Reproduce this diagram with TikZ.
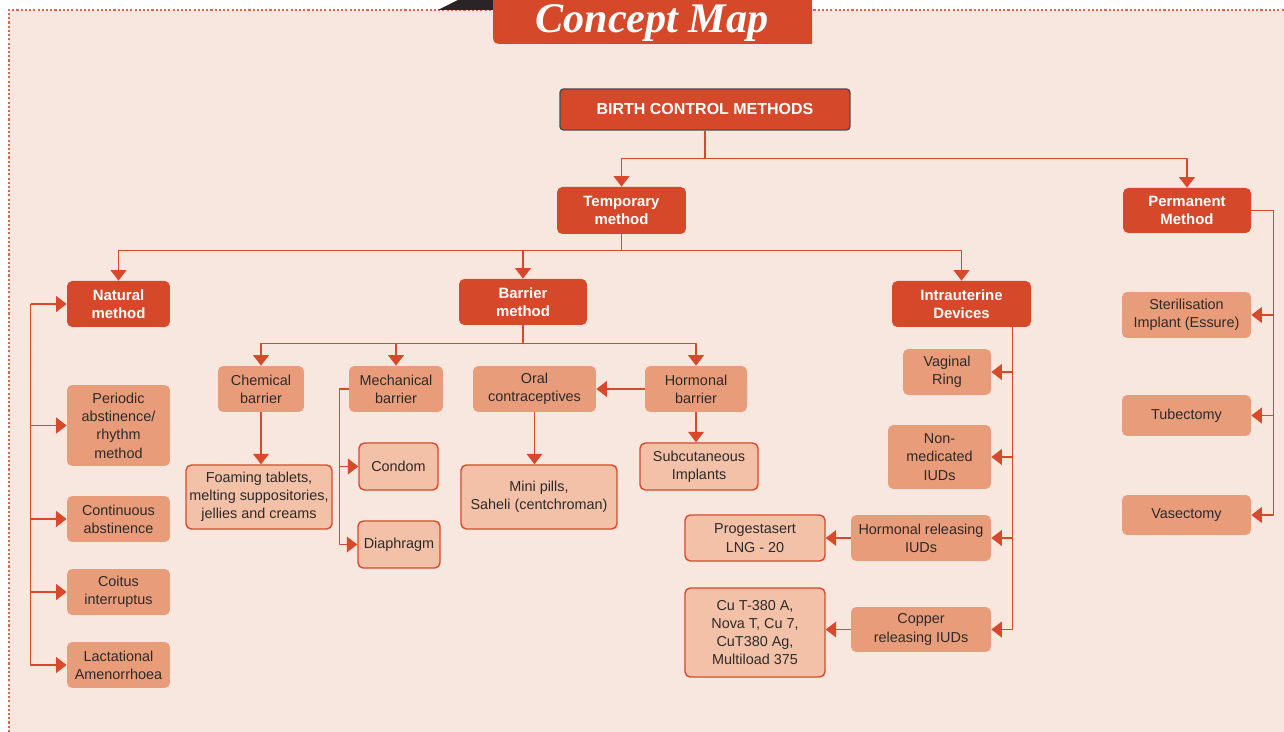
\documentclass[tikz,border=0pt]{standalone}
\usepackage{fontspec}
\setmainfont{Liberation Sans}
\newfontfamily\bannerfont{Liberation Serif}
\usetikzlibrary{arrows.meta}
\definecolor{cdark}{HTML}{D5482A}
\definecolor{cmid}{HTML}{E89C7A}
\definecolor{clight}{HTML}{F2C1A8}
\definecolor{cline}{HTML}{D9482A}
\definecolor{cpaper}{HTML}{F8E7DE}
\definecolor{ctext}{HTML}{2E2A2A}
\definecolor{cdot}{HTML}{E8604A}
\definecolor{cribbon}{HTML}{2B2426}
\begin{document}
\begin{tikzpicture}[x=0.02cm, y=-0.02cm, line join=round,
		>={Triangle[length=6pt,width=9pt]},
		rootbox/.style={fill=cdark, draw=black!70, line width=0.8pt, text=white, inner sep=0pt,
			rounded corners=2pt, font=\fontsize{9.1}{11}\selectfont\bfseries},
		headbox/.style={fill=cdark, text=white, align=center, inner sep=0pt, rounded corners=3pt,
			font=\fontsize{8.5}{10.2}\selectfont\bfseries},
		midbox/.style={fill=cmid, text=ctext, align=center, inner sep=0pt, rounded corners=3pt,
			font=\fontsize{8.2}{10.4}\selectfont},
		leafbox/.style={midbox, fill=clight, draw=cline, line width=0.8pt},
		link/.style={draw=cline, line width=0.85pt, ->}]
	\useasboundingbox (0,0) rectangle (1284,732);
	% paper and banner
	\fill[cpaper] (9,10) rectangle (1284,732);
	\draw[cdot, line width=0.7pt, dash pattern=on 1.2pt off 1.2pt] (9,732) -- (9,10) -- (1284,10);
	\fill[cribbon] (438,10) -- (458,0) -- (496,0) -- (496,10) -- cycle;
	\fill[cdark] (493,0) -- (812,0) -- (812,44) -- (506,44) .. controls (493,44) .. (493,31) -- cycle;
	\node[anchor=base, text=white, font=\bannerfont\bfseries\itshape\fontsize{24}{24}\selectfont] (title) at (652,33) {Concept Map};
	
	% top levels
	\node[rootbox, minimum width=5.8cm, minimum height=0.82cm] (bcm) at (705,109.5) {BIRTH CONTROL METHODS};
	\node[headbox, minimum width=2.58cm, minimum height=0.94cm] (tmp) at (621.5,210.5) {Temporary\\method};
	\node[headbox, minimum width=2.56cm, minimum height=0.9cm] (perm) at (1187,210.5) {Permanent\\Method};
	\node[headbox, minimum width=2.06cm, minimum height=0.92cm] (nat) at (118.5,304) {Natural\\method};
	\node[headbox, minimum width=2.56cm, minimum height=0.92cm] (bar) at (523,302) {Barrier\\method};
	\node[headbox, minimum width=2.78cm, minimum height=0.92cm] (iud) at (961.5,304) {Intrauterine\\Devices};
	
	% natural
	\node[midbox, minimum width=2.06cm, minimum height=1.62cm] (per) at (118.5,425.5) {Periodic\\abstinence/\\rhythm\\method};
	\node[midbox, minimum width=2.06cm, minimum height=0.92cm] (cont) at (118.5,519) {Continuous\\abstinence};
	\node[midbox, minimum width=2.06cm, minimum height=0.92cm] (coit) at (118.5,592) {Coitus\\interruptus};
	\node[midbox, minimum width=2.06cm, minimum height=0.92cm] (lact) at (118.5,665) {Lactational\\Amenorrhoea};
	
	% barrier
	\node[midbox, minimum width=1.72cm, minimum height=0.92cm] (chem) at (261,389) {Chemical\\barrier};
	\node[midbox, minimum width=1.88cm, minimum height=0.92cm] (mech) at (396,389) {Mechanical\\barrier};
	\node[midbox, minimum width=2.46cm, minimum height=0.92cm] (oral) at (534.5,389) {Oral\\contraceptives};
	\node[midbox, minimum width=2.04cm, minimum height=0.92cm] (horm) at (696,389) {Hormonal\\barrier};
	\node[leafbox, minimum width=2.92cm, minimum height=1.28cm] (foam) at (259,497) {Foaming tablets,\\melting suppositories,\\jellies and creams};
	\node[leafbox, minimum width=1.58cm, minimum height=0.94cm] (cond) at (398.5,466.5) {Condom};
	\node[leafbox, minimum width=1.64cm, minimum height=0.94cm] (diap) at (399,544.5) {Diaphragm};
	\node[leafbox, minimum width=3.12cm, minimum height=1.28cm] (mini) at (539,497) {Mini pills,\\Saheli (centchroman)};
	\node[leafbox, minimum width=2.36cm, minimum height=0.94cm] (subc) at (699,466.5) {Subcutaneous\\Implants};
	
	% intrauterine
	\node[midbox, minimum width=1.76cm, minimum height=0.92cm] (vag) at (947,372) {Vaginal\\Ring};
	\node[midbox, minimum width=2.06cm, minimum height=1.28cm] (nonm) at (939.5,457) {Non-\\medicated\\IUDs};
	\node[midbox, minimum width=2.8cm, minimum height=0.92cm] (hrel) at (921,538) {Hormonal releasing\\IUDs};
	\node[midbox, minimum width=2.8cm, minimum height=0.9cm] (cu) at (921,629.5) {Copper\\releasing IUDs};
	\node[leafbox, minimum width=2.8cm, minimum height=0.92cm] (prog) at (755,538) {Progestasert\\LNG - 20};
	\node[leafbox, minimum width=2.8cm, minimum height=1.78cm] (cut) at (755,632.5) {Cu T-380 A,\\Nova T, Cu 7,\\CuT380 Ag,\\Multiload 375};
	
	% permanent
	\node[midbox, minimum width=2.58cm, minimum height=0.92cm] (ster) at (1186.5,315) {Sterilisation\\Implant (Essure)};
	\node[midbox, minimum width=2.58cm, minimum height=0.82cm] (tube) at (1186.5,415.5) {Tubectomy};
	\node[midbox, minimum width=2.58cm, minimum height=0.8cm] (vase) at (1186.5,515) {Vasectomy};
	
	% connectors
	\draw[link] (bcm.south) -- ++(0,28) -| (tmp);
	\draw[link] (bcm.south) -- ++(0,28) -| (perm);
	\draw[link] (tmp.south) -- ++(0,16) -| (nat);
	\draw[link] (tmp.south) -- ++(0,16) -| (bar);
	\draw[link] (tmp.south) -- ++(0,16) -| (iud);
	\draw[link] (bar.south) -- ++(0,18) -| (chem);
	\draw[link] (bar.south) -- ++(0,18) -| (mech);
	\draw[link] (bar.south) -- ++(0,18) -| (horm);
	\draw[link] (chem.south) -- (chem.south |- foam.north);
	\draw[link] (mech.west) -- ++(-9,0) |- (cond);
	\draw[link] (mech.west) -- ++(-9,0) |- (diap);
	\draw[link] (horm.west) -- (oral.east);
	\draw[link] (horm.south) -- (horm.south |- subc.north);
	\draw[link] (oral.south) -- (oral.south |- mini.north);
	\coordinate (itrunk) at ([xshift=-0.38cm]iud.south east);
	\draw[link] (itrunk) |- (vag);
	\draw[link] (itrunk) |- (nonm);
	\draw[link] (itrunk) |- (hrel);
	\draw[link] (itrunk) |- (cu);
	\draw[link] (hrel.west) -- (prog.east);
	\draw[link] (cu.west) -- (cu.west -| cut.east);
	\coordinate (ntrunk) at ([xshift=-0.72cm]nat.west);
	\draw[link] (ntrunk) -- (nat.west);
	\draw[link] (ntrunk) |- (per);
	\draw[link] (ntrunk) |- (cont);
	\draw[link] (ntrunk) |- (coit);
	\draw[link] (ntrunk) |- (lact);
	\draw[link] (perm.east) -- ++(22,0) |- (ster);
	\draw[link] (perm.east) -- ++(22,0) |- (tube);
	\draw[link] (perm.east) -- ++(22,0) |- (vase);
\end{tikzpicture}
\end{document}
